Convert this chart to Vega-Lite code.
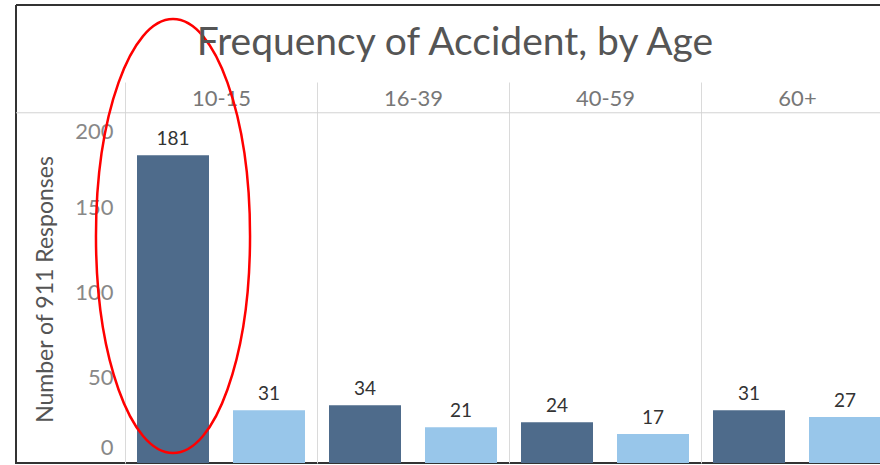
{
  "$schema": "https://vega.github.io/schema/vega-lite/v6.json",
  "width": 864,
  "height": 458,
  "autosize": {"type": "none"},
  "padding": {"left": 16, "top": 5, "right": 0, "bottom": 2},
  "background": "white",
  "title": {
    "text": "Frequency of Accident, by Age",
    "font": "Lato",
    "fontSize": 39,
    "fontWeight": "normal",
    "color": "#555555",
    "anchor": "middle",
    "frame": "group",
    "baseline": "alphabetic",
    "offset": -89,
    "dx": 7
  },
  "datasets": {
    "bars": [
      {"age": "10-15", "category": "Category 1", "responses": 181},
      {"age": "10-15", "category": "Category 2", "responses": 31},
      {"age": "16-39", "category": "Category 1", "responses": 34},
      {"age": "16-39", "category": "Category 2", "responses": 21},
      {"age": "40-59", "category": "Category 1", "responses": 24},
      {"age": "40-59", "category": "Category 2", "responses": 17},
      {"age": "60+", "category": "Category 1", "responses": 31},
      {"age": "60+", "category": "Category 2", "responses": 27}
    ],
    "annotation": [
      {"age": "10-15", "category": "Category 1", "center": 133.5}
    ]
  },
  "layer": [
    {
      "data": {"values": [{"line": "header"}]},
      "mark": {"type": "rule", "color": "#d3d3d3", "strokeWidth": 1},
      "encoding": {
        "y": {"datum": 206, "type": "quantitative", "title": "Number of 911 Responses"}
      }
    },
    {
      "data": {"name": "bars"},
      "mark": {"type": "bar"},
      "encoding": {
        "x": {
          "field": "age",
          "type": "nominal",
          "sort": ["10-15", "16-39", "40-59", "60+"],
          "title": null,
          "scale": {"range": [109, 877], "paddingInner": 0, "paddingOuter": 0},
          "axis": {
            "orient": "top",
            "offset": -108,
            "domain": false,
            "ticks": false,
            "tickSize": 0,
            "tickBand": "extent",
            "grid": true,
            "gridColor": "#dadada",
            "gridWidth": 1,
            "labelAngle": 0,
            "labelFont": "Lato",
            "labelFontSize": 22,
            "labelColor": "#777777",
            "labelBaseline": "middle",
            "labelPadding": 15
          }
        },
        "xOffset": {
          "field": "category",
          "type": "nominal",
          "scale": {"paddingInner": 0.25, "paddingOuter": 0.125}
        },
        "y": {
          "field": "responses",
          "type": "quantitative",
          "title": "Number of 911 Responses",
          "scale": {"domain": [0, 224.1], "range": [458, 77], "nice": false, "zero": true},
          "axis": {
            "orient": "left",
            "offset": -109,
            "domain": false,
            "ticks": false,
            "tickSize": 0,
            "grid": false,
            "values": [0, 50, 100, 150, 200],
            "labelFont": "Lato",
            "labelFontSize": 22,
            "labelColor": "#888888",
            "labelPadding": 12,
            "labelBaseline": "middle",
            "labelOffset": {
              "condition": [
                {"test": "datum.value === 0", "value": -16},
                {"test": "datum.value === 200", "value": 9}
              ],
              "value": 0
            },
            "titleFont": "Lato",
            "titleFontSize": 23,
            "titleFontWeight": "normal",
            "titleColor": "#555555",
            "titleX": -80,
            "titleY": 284,
            "titleBaseline": "middle"
          }
        },
        "color": {
          "field": "category",
          "type": "nominal",
          "scale": {"domain": ["Category 1", "Category 2"], "range": ["#4e6b8b", "#98c6ea"]},
          "legend": null
        }
      }
    },
    {
      "data": {"name": "bars"},
      "mark": {"type": "text", "baseline": "alphabetic", "dy": -10, "font": "Lato", "fontSize": 19, "color": "#333333"},
      "encoding": {
        "x": {"field": "age", "type": "nominal", "sort": ["10-15", "16-39", "40-59", "60+"], "title": null},
        "xOffset": {"field": "category", "type": "nominal"},
        "y": {"field": "responses", "type": "quantitative", "title": "Number of 911 Responses"},
        "text": {"field": "responses", "type": "quantitative"}
      }
    },
    {
      "data": {"name": "annotation"},
      "mark": {
        "type": "point",
        "filled": false,
        "shape": "M0,-1C0.196,-1,0.355,-0.5523,0.355,0C0.355,0.5523,0.196,1,0,1C-0.196,1,-0.355,0.5523,-0.355,0C-0.355,-0.5523,-0.196,-1,0,-1Z",
        "size": 188356,
        "stroke": "#ff0000",
        "strokeWidth": 2.5,
        "opacity": 1
      },
      "encoding": {
        "x": {"field": "age", "type": "nominal", "sort": ["10-15", "16-39", "40-59", "60+"], "title": null},
        "xOffset": {"field": "category", "type": "nominal"},
        "y": {"field": "center", "type": "quantitative", "title": "Number of 911 Responses"}
      }
    }
  ],
  "config": {
    "view": {"stroke": "#333333", "strokeWidth": 2, "strokeDash": [864, 458, 1322, 0]}
  }
}
